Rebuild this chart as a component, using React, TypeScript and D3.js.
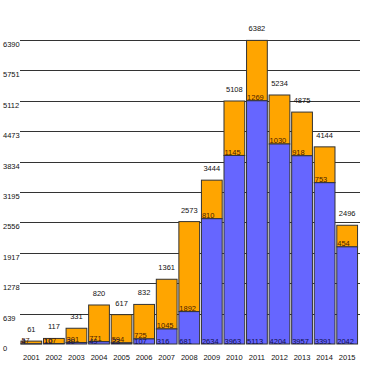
import React, { useEffect, useRef } from 'react';
import * as d3 from 'd3';

// data
const years = ['2001', '2002', '2003', '2004', '2005', '2006', '2007', '2008', '2009', '2010', '2011', '2012', '2013', '2014', '2015'];
const blueVals = [4, 10, 30, 49, 23, 107, 316, 681, 2634, 3963, 5113, 4204, 3957, 3391, 2042];
const orangeVals = [57, 107, 301, 771, 594, 725, 1045, 1892, 810, 1145, 1269, 1030, 918, 753, 454];
const yTicks = [0, 639, 1278, 1917, 2556, 3195, 3834, 4473, 5112, 5751, 6390];

const width = 374;
const height = 384;

function App() {
  const ref = useRef<SVGSVGElement>(null);

  useEffect(() => {
    const svg = d3.select(ref.current);
    svg.selectAll('*').remove();

    const x = d3.scaleBand<string>()
      .domain(years)
      .range([20.5, 358])
      .paddingInner(0.08)
      .paddingOuter(0.02);

    const y = d3.scaleLinear()
      .domain([0, 6390])
      .range([344, 40]);

    const font = '"Liberation Sans", Arial, sans-serif';

    // grid lines + left labels
    const grid = svg.append('g');
    yTicks.forEach(t => {
      if (t > 0) {
        grid.append('line')
          .attr('x1', 20).attr('x2', 360)
          .attr('y1', Math.round(y(t)) + 0.5).attr('y2', Math.round(y(t)) + 0.5)
          .attr('stroke', '#333').attr('stroke-width', 1);
      }
      grid.append('text')
        .attr('x', 3)
        .attr('y', y(t) + 7)
        .attr('font-family', font)
        .attr('font-size', 7.5)
        .attr('fill', '#111')
        .text(t);
    });

    const bars = svg.append('g');
    years.forEach((yr, i) => {
      const x0 = x(yr)!;
      const bw = x.bandwidth();
      const b = blueVals[i];
      const o = orangeVals[i];
      const total = b + o;

      // orange top part
      bars.append('rect')
        .attr('x', x0).attr('width', bw)
        .attr('y', y(total)).attr('height', y(b) - y(total))
        .attr('fill', '#FFA500')
        .attr('stroke', '#333').attr('stroke-width', 1);
      // blue bottom part
      bars.append('rect')
        .attr('x', x0).attr('width', bw)
        .attr('y', y(b)).attr('height', y(0) - y(b))
        .attr('fill', '#6666FF')
        .attr('stroke', '#333').attr('stroke-width', 1);

      // total above bar
      bars.append('text')
        .attr('x', x0 + bw / 2)
        .attr('y', y(total) - 9)
        .attr('text-anchor', 'middle')
        .attr('font-family', font)
        .attr('font-size', 7.5)
        .attr('fill', '#111')
        .text(total);

      // orange value at the boundary
      bars.append('text')
        .attr('x', x0 + 0.5)
        .attr('y', y(b) - 0.5)
        .attr('font-family', font)
        .attr('font-size', 7.5)
        .attr('fill', '#4a2000')
        .text(o);

      // blue value at the bottom
      bars.append('text')
        .attr('x', x0 + 0.5)
        .attr('y', y(0) - 0.5)
        .attr('font-family', font)
        .attr('font-size', 7.5)
        .attr('fill', '#10104a')
        .text(b);

      // year label
      bars.append('text')
        .attr('x', x0 + bw / 2)
        .attr('y', 360)
        .attr('text-anchor', 'middle')
        .attr('font-family', font)
        .attr('font-size', 7.5)
        .attr('fill', '#111')
        .text(yr);
    });
  }, []);

  return (
    <svg ref={ref} width={width} height={height}
      style={{ position: 'absolute', left: 0, top: 0, background: '#fff' }} />
  );
}

export default App;
